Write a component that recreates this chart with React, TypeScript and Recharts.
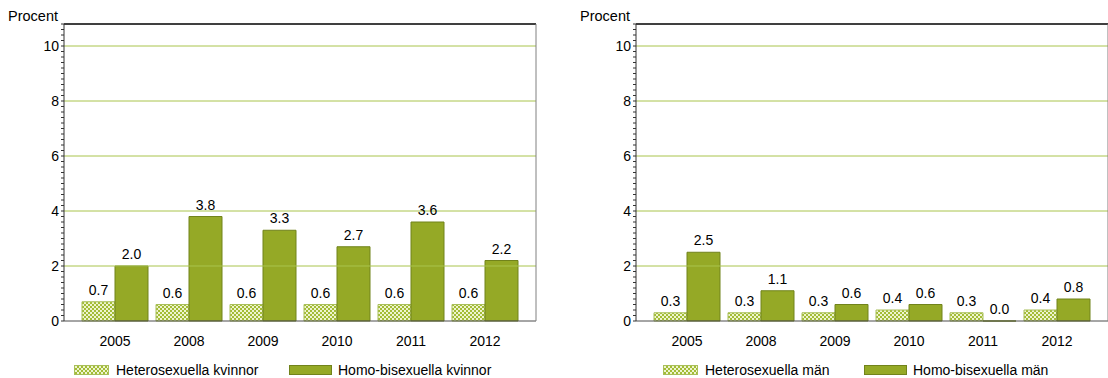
import React from "react";
import { BarChart, Bar, XAxis, YAxis, ReferenceLine, LabelList } from "recharts";

const years = ["2005", "2008", "2009", "2010", "2011", "2012"];
const heteroKvinnor = [0.7, 0.6, 0.6, 0.6, 0.6, 0.6];
const homoKvinnor = [2.0, 3.8, 3.3, 2.7, 3.6, 2.2];
const heteroMan = [0.3, 0.3, 0.3, 0.4, 0.3, 0.4];
const homoMan = [2.5, 1.1, 0.6, 0.6, 0.0, 0.8];
const majorTicks = [0, 2, 4, 6, 8, 10];
const gridLines = [2, 4, 6, 8, 10];
const Y_MAX = 10.8;

const FONT = "'Liberation Sans', Arial, sans-serif";
const FS = 14;
const GREEN = "#95a926";
const GREEN_EDGE = "#71831b";
const GRID = "#a9c44c";
const CHECK_DARK = "#a3bc36";
const CHECK_LIGHT = "#eef4cf";

// minor ticks every 0.2 on the value axis
const minorTicks = Array.from({ length: 55 }, (_, i) => +(i * 0.2).toFixed(1));

const YTick = (props: any) => {
  const { x, y, payload } = props;
  const v = payload.value;
  const major = majorTicks.includes(v);
  return (
    <g>
      <line x1={x - 3} x2={x} y1={y} y2={y} stroke="#333" strokeWidth={1} />
      {major && (
        <text x={x - 5} y={y} dy={4.8} textAnchor="end" fontSize={FS} fill="#000" fontFamily={FONT}>
          {v}
        </text>
      )}
    </g>
  );
};

// zero-height bars still need their "0.0" label
const tinyZero = (value: any) => (Number(value) === 0 ? 0.01 : 0);

function Panel({
  hetero,
  homo,
  heteroName,
  homoName,
  left,
  width,
  marginRight,
  legendX,
  id,
}: {
  hetero: number[];
  homo: number[];
  heteroName: string;
  homoName: string;
  left: number;
  width: number;
  marginRight: number;
  legendX: [number, number];
  id: string;
}) {
  const data = years.map((year, i) => ({ year, hetero: hetero[i], homo: homo[i] }));
  const fmt = (v: any) => Number(v).toFixed(1);
  return (
    <div style={{ position: "absolute", left, top: 0, width, height: 378, fontFamily: FONT }}>
      <div style={{ position: "absolute", left: 8, top: 8, fontSize: 14.5, color: "#000" }}>Procent</div>
      <BarChart
        width={width}
        height={378}
        data={data}
        margin={{ top: 23, right: marginRight - 1, left: 34, bottom: 27 }}
        barGap={0}
        barCategoryGap={4}
        style={{ fontFamily: FONT }}
      >
        <defs>
          <pattern id={`check-${id}`} width={4} height={4} patternUnits="userSpaceOnUse">
            <rect width={4} height={4} fill={CHECK_LIGHT} />
            <rect width={2} height={2} fill={CHECK_DARK} />
            <rect x={2} y={2} width={2} height={2} fill={CHECK_DARK} />
          </pattern>
        </defs>
        <XAxis
          dataKey="year"
          padding={{ left: 14, right: 14 }}
          tickLine={false}
          tickSize={0}
          tickMargin={15}
          height={30}
          axisLine={{ stroke: "#4d4d4d" }}
          tick={{ fill: "#000", fontSize: FS }}
          interval={0}
        />
        <XAxis xAxisId="top" dataKey="year" orientation="top" height={1} tick={false} tickLine={false} axisLine={{ stroke: "#000" }} />
        <YAxis
          domain={[0, Y_MAX]}
          ticks={minorTicks}
          interval={0}
          width={30}
          tickSize={0}
          tickMargin={0}
          tickLine={false}
          axisLine={{ stroke: "#333" }}
          tick={<YTick />}
        />
        <YAxis yAxisId="right" orientation="right" domain={[0, Y_MAX]} width={1} tick={false} tickLine={false} axisLine={{ stroke: "#808080" }} />
        {gridLines.map((g) => (
          <ReferenceLine key={g} y={g} stroke={GRID} strokeWidth={1} />
        ))}
        <ReferenceLine y={Y_MAX} stroke="#000" strokeWidth={1} />
        <Bar dataKey="hetero" name={heteroName} fill={`url(#check-${id})`} stroke="#a9bf5a" strokeWidth={1} isAnimationActive={false}>
          <LabelList dataKey="hetero" position="top" offset={7} formatter={fmt} fill="#000" fontSize={FS} />
        </Bar>
        <Bar dataKey="homo" name={homoName} fill={GREEN} stroke={GREEN_EDGE} strokeWidth={1} minPointSize={tinyZero} isAnimationActive={false}>
          <LabelList dataKey="homo" position="top" offset={7} formatter={fmt} fill="#000" fontSize={FS} />
        </Bar>
      </BarChart>
      <div style={{ position: "absolute", top: 362, left: 0, width, height: 16, fontSize: FS, color: "#000" }}>
        <div style={{ position: "absolute", left: legendX[0], top: 0, display: "flex", alignItems: "center", whiteSpace: "nowrap" }}>
          <span
            style={{
              display: "inline-block",
              width: 33,
              height: 8,
              border: "1px solid #a9bf5a",
              background: `repeating-conic-gradient(${CHECK_DARK} 0 25%, ${CHECK_LIGHT} 0 50%) 0 0 / 4px 4px`,
              marginRight: 7,
            }}
          />
          {heteroName}
        </div>
        <div style={{ position: "absolute", left: legendX[1], top: 0, display: "flex", alignItems: "center", whiteSpace: "nowrap" }}>
          <span
            style={{
              display: "inline-block",
              width: 41,
              height: 8,
              border: `1px solid ${GREEN_EDGE}`,
              background: GREEN,
              marginRight: 6,
            }}
          />
          {homoName}
        </div>
      </div>
    </div>
  );
}

export default function App() {
  return (
    <div style={{ position: "absolute", left: 0, top: 0, width: 1108, height: 378, background: "#fff", overflow: "hidden" }}>
      <Panel
        id="k"
        hetero={heteroKvinnor}
        homo={homoKvinnor}
        heteroName="Heterosexuella kvinnor"
        homoName="Homo-bisexuella kvinnor"
        left={0}
        width={556}
        marginRight={20}
        legendX={[74, 289]}
      />
      <Panel
        id="m"
        hetero={heteroMan}
        homo={homoMan}
        heteroName="Heterosexuella män"
        homoName="Homo-bisexuella män"
        left={572}
        width={536}
        marginRight={0}
        legendX={[91, 292]}
      />
    </div>
  );
}
